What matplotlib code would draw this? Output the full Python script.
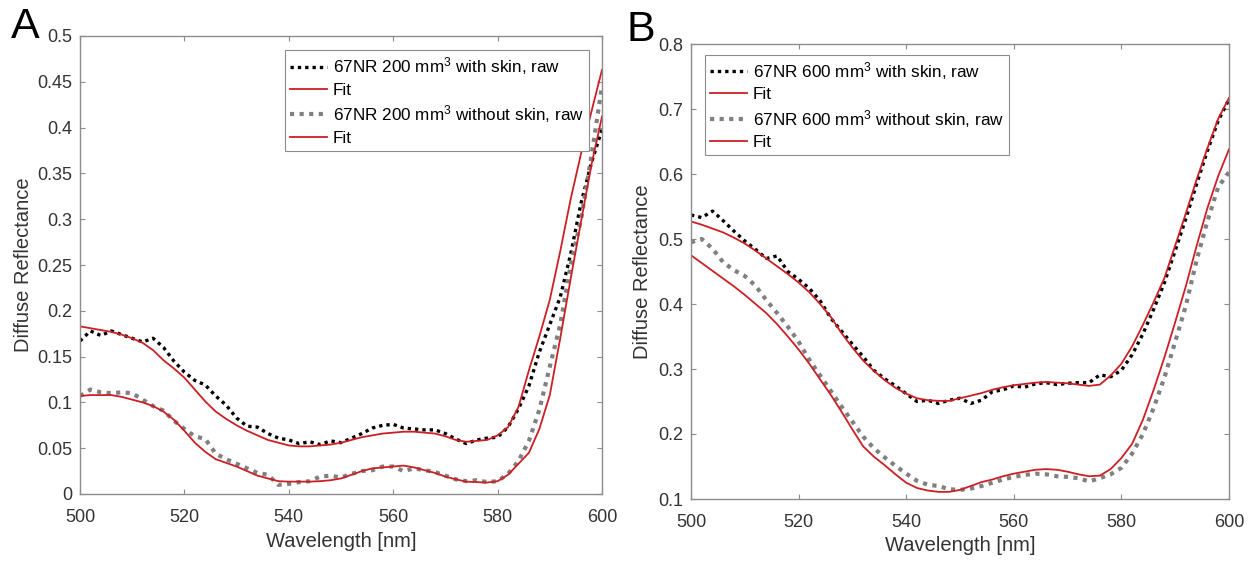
import numpy as np
import matplotlib
matplotlib.use("Agg")
import matplotlib.pyplot as plt
from matplotlib.ticker import FuncFormatter

plt.rcParams["font.family"] = ["Liberation Sans", "DejaVu Sans"]
plt.rcParams["mathtext.fontset"] = "custom"
plt.rcParams["mathtext.rm"] = "Liberation Sans"
plt.rcParams["mathtext.default"] = "regular"

# =========================
# Data
# =========================

wavelength = np.arange(500, 601, 2)

# panel A: 67NR 200 mm3
a_skin_raw = [0.167, 0.178, 0.173, 0.178, 0.174, 0.170, 0.166, 0.170, 0.160, 0.145,
              0.133, 0.124, 0.119, 0.107, 0.097, 0.083, 0.074, 0.073, 0.066, 0.061,
              0.059, 0.055, 0.057, 0.054, 0.058, 0.056, 0.061, 0.066, 0.072, 0.075,
              0.076, 0.072, 0.071, 0.070, 0.070, 0.066, 0.060, 0.055, 0.059, 0.061,
              0.062, 0.073, 0.093, 0.118, 0.155, 0.185, 0.215, 0.262, 0.318, 0.362,
              0.398]
a_skin_fit = [0.183, 0.181, 0.179, 0.177, 0.174, 0.170, 0.165, 0.157, 0.146, 0.137,
              0.127, 0.114, 0.101, 0.090, 0.082, 0.075, 0.069, 0.064, 0.059, 0.056,
              0.053, 0.052, 0.052, 0.053, 0.054, 0.056, 0.059, 0.062, 0.064, 0.066,
              0.067, 0.068, 0.068, 0.067, 0.066, 0.063, 0.059, 0.057, 0.058, 0.059,
              0.064, 0.073, 0.095, 0.135, 0.172, 0.212, 0.265, 0.322, 0.372, 0.418,
              0.463]
a_noskin_raw = [0.107, 0.114, 0.111, 0.110, 0.111, 0.110, 0.103, 0.096, 0.091, 0.080,
                0.071, 0.063, 0.060, 0.044, 0.038, 0.033, 0.028, 0.023, 0.021, 0.010,
                0.011, 0.013, 0.014, 0.019, 0.020, 0.018, 0.022, 0.025, 0.026, 0.030,
                0.030, 0.025, 0.028, 0.026, 0.024, 0.020, 0.016, 0.014, 0.015, 0.013,
                0.014, 0.022, 0.036, 0.058, 0.092, 0.139, 0.185, 0.250, 0.300, 0.370,
                0.445]
a_noskin_fit = [0.107, 0.108, 0.108, 0.108, 0.106, 0.103, 0.100, 0.096, 0.090, 0.081,
                0.069, 0.056, 0.046, 0.038, 0.034, 0.030, 0.025, 0.020, 0.017, 0.014,
                0.0135, 0.0135, 0.0135, 0.014, 0.015, 0.017, 0.021, 0.025, 0.028, 0.029,
                0.030, 0.031, 0.029, 0.026, 0.023, 0.019, 0.016, 0.0135, 0.013, 0.0125,
                0.014, 0.021, 0.033, 0.045, 0.071, 0.108, 0.170, 0.235, 0.298, 0.360,
                0.412]

# panel B: 67NR 600 mm3
b_skin_raw = [0.537, 0.533, 0.543, 0.528, 0.512, 0.497, 0.484, 0.470, 0.474, 0.450,
              0.438, 0.424, 0.405, 0.378, 0.358, 0.338, 0.319, 0.298, 0.285, 0.274,
              0.262, 0.250, 0.252, 0.247, 0.252, 0.255, 0.247, 0.252, 0.265, 0.268,
              0.274, 0.272, 0.277, 0.279, 0.276, 0.278, 0.279, 0.279, 0.291, 0.288,
              0.298, 0.322, 0.354, 0.392, 0.433, 0.482, 0.532, 0.585, 0.636, 0.682,
              0.715]
b_skin_fit = [0.527, 0.522, 0.516, 0.510, 0.502, 0.493, 0.482, 0.470, 0.458, 0.446,
              0.433, 0.418, 0.400, 0.380, 0.355, 0.333, 0.313, 0.297, 0.283, 0.271,
              0.262, 0.255, 0.252, 0.251, 0.251, 0.255, 0.259, 0.263, 0.268, 0.272,
              0.275, 0.277, 0.279, 0.280, 0.279, 0.278, 0.276, 0.274, 0.276, 0.290,
              0.308, 0.335, 0.368, 0.403, 0.440, 0.490, 0.540, 0.592, 0.640, 0.685,
              0.717]
b_noskin_raw = [0.495, 0.500, 0.485, 0.464, 0.452, 0.443, 0.428, 0.406, 0.386, 0.365,
                0.342, 0.314, 0.290, 0.266, 0.242, 0.219, 0.196, 0.178, 0.164, 0.151,
                0.139, 0.128, 0.122, 0.120, 0.115, 0.114, 0.116, 0.120, 0.125, 0.130,
                0.134, 0.137, 0.139, 0.138, 0.135, 0.134, 0.132, 0.127, 0.132, 0.138,
                0.148, 0.170, 0.200, 0.240, 0.287, 0.342, 0.398, 0.468, 0.528, 0.580,
                0.603]
b_noskin_fit = [0.475, 0.463, 0.451, 0.439, 0.427, 0.414, 0.400, 0.386, 0.369, 0.350,
                0.330, 0.308, 0.284, 0.260, 0.234, 0.207, 0.181, 0.165, 0.152, 0.138,
                0.125, 0.117, 0.113, 0.111, 0.111, 0.114, 0.120, 0.126, 0.130, 0.135,
                0.139, 0.142, 0.145, 0.146, 0.145, 0.142, 0.138, 0.135, 0.136, 0.146,
                0.163, 0.185, 0.222, 0.268, 0.318, 0.372, 0.428, 0.490, 0.548, 0.597,
                0.638]

labels_a = ["67NR 200 mm$^{3}$ with skin, raw", "Fit",
            "67NR 200 mm$^{3}$ without skin, raw", "Fit"]
labels_b = ["67NR 600 mm$^{3}$ with skin, raw", "Fit",
            "67NR 600 mm$^{3}$ without skin, raw", "Fit"]

RED = "#cc1f24"
GRAY = "#808080"
FRAME = "#8c8c8c"
TXT = "#333333"


def draw_panel(ax, raw1, fit1, raw2, fit2, labels):
    ax.plot(wavelength, raw1, color="black", lw=2.4, dashes=(1, 1.2),
            dash_capstyle="butt", label=labels[0])
    ax.plot(wavelength, fit1, color=RED, lw=1.3, label=labels[1])
    ax.plot(wavelength, raw2, color=GRAY, lw=3.0, dashes=(1, 1.3),
            dash_capstyle="butt", label=labels[2])
    ax.plot(wavelength, fit2, color=RED, lw=1.3, label=labels[3])

    ax.set_xlim(500, 600)
    ax.set_xticks(np.arange(500, 601, 20))
    ax.yaxis.set_major_formatter(FuncFormatter(lambda v, p: "%g" % round(v, 3)))
    ax.tick_params(direction="in", top=True, right=True, length=3.6,
                   width=0.8, color=FRAME, labelcolor=TXT, labelsize=13)
    ax.tick_params(axis="x", pad=10.5)
    ax.tick_params(axis="y", pad=5.5)
    for s in ax.spines.values():
        s.set_color(FRAME)
        s.set_linewidth(1.0)

    ax.set_xlabel("Wavelength [nm]", fontsize=14.5, color=TXT)
    ax.set_ylabel("Diffuse Reflectance", fontsize=14.5, color=TXT)
    ax.xaxis.label.set_va("center")
    ax.yaxis.label.set_va("center")


fig = plt.figure(figsize=(12.56, 5.64), dpi=100)

# =========================
# Panel A
# =========================
ax1 = fig.add_axes([80 / 1256, 1 - 494 / 564, 522 / 1256, 458 / 564])
draw_panel(ax1, a_skin_raw, a_skin_fit, a_noskin_raw, a_noskin_fit, labels_a)
ax1.set_ylim(0, 0.5)
ax1.set_yticks(np.arange(0, 0.501, 0.05))
ax1.xaxis.set_label_coords(0.5, -0.103)
ax1.yaxis.set_label_coords(-0.109, 0.5)
leg1 = ax1.legend(loc="upper right", bbox_to_anchor=(0.975, 0.969), borderaxespad=0,
                  fontsize=12.3, handlelength=2.15, handletextpad=0.35,
                  borderpad=0.3, labelspacing=0.32, fancybox=False, framealpha=1)
leg1.get_frame().set_edgecolor(FRAME)
leg1.get_frame().set_linewidth(0.8)

# =========================
# Panel B
# =========================
ax2 = fig.add_axes([691 / 1256, 1 - 499 / 564, 538 / 1256, 455 / 564])
draw_panel(ax2, b_skin_raw, b_skin_fit, b_noskin_raw, b_noskin_fit, labels_b)
ax2.set_ylim(0.1, 0.8)
ax2.set_yticks(np.arange(0.1, 0.801, 0.1))
ax2.xaxis.set_label_coords(0.5, -0.103)
ax2.yaxis.set_label_coords(-0.091, 0.5)
leg2 = ax2.legend(loc="upper left", bbox_to_anchor=(0.026, 0.976), borderaxespad=0,
                  fontsize=12.3, handlelength=2.15, handletextpad=0.35,
                  borderpad=0.3, labelspacing=0.32, fancybox=False, framealpha=1)
leg2.get_frame().set_edgecolor(FRAME)
leg2.get_frame().set_linewidth(0.8)

# panel letters
fig.text(11 / 1256, 1 - 38 / 564, "A", fontsize=31, va="baseline", ha="left")
fig.text(626 / 1256, 1 - 41 / 564, "B", fontsize=31, va="baseline", ha="left")

fig.savefig("out.png", dpi=100)
